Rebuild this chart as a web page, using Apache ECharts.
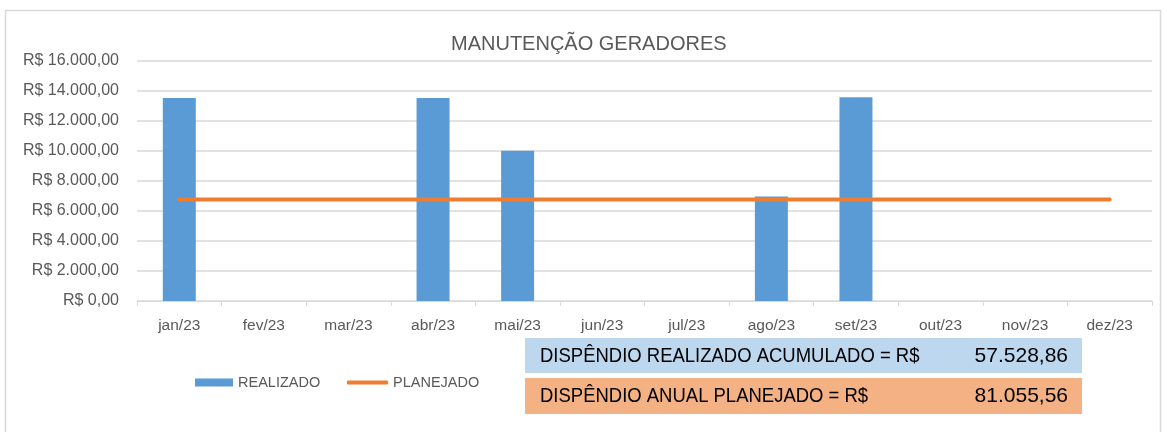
<!DOCTYPE html>
<html>
<head>
<meta charset="utf-8">
<script src="https://cdn.jsdelivr.net/npm/echarts@6/dist/echarts.min.js"></script>
<style>
  html, body { margin: 0; padding: 0; background: #fff; }
  #chart { width: 1167px; height: 432px; }
</style>
</head>
<body>
<div id="chart"></div>
<script>
// dados
const categories = ['jan/23', 'fev/23', 'mar/23', 'abr/23', 'mai/23', 'jun/23', 'jul/23', 'ago/23', 'set/23', 'out/23', 'nov/23', 'dez/23']
const realizado = [13500, null, null, 13500, 10000, null, null, 6950, 13550, null, null, null]
const planejado = [6754.63, 6754.63, 6754.63, 6754.63, 6754.63, 6754.63, 6754.63, 6754.63, 6754.63, 6754.63, 6754.63, 6754.63]
const totalRealizado = '57.528,86'
const totalPlanejado = '81.055,56'

const FONT = '"Liberation Sans", Roboto, sans-serif'
const GRAY = '#595959'

function brl(v) { // formato R$ 16.000,00
    const parts = Number(v).toFixed(2).split('.')
    const int = parts[0].replace(/\B(?=(\d{3})+(?!\d))/g, '.')
    return 'R$ ' + int + ',' + parts[1]
}

const chart = echarts.init(document.getElementById('chart'))

const legendText = { color: GRAY, fontSize: 14.5, fontFamily: FONT }

// texto das caixas de resumo (fonte estreita simulada com scaleX)
function boxText(text, x, y, align, scaleX) {
    return {
        type: 'text',
        x: x,
        y: y,
        scaleX: scaleX,
        style: { text: text, fill: '#000', fontSize: 21, fontFamily: FONT, textAlign: align, textVerticalAlign: 'middle' }
    }
}

const option = {
    animation: false,
    title: {
        text: 'MANUTENÇÃO GERADORES',
        left: 451,
        top: 34,
        padding: 0,
        textStyle: { color: GRAY, fontSize: 20, fontWeight: 'normal', fontFamily: FONT }
    },
    grid: { left: 137, right: 15, top: 60.5, bottom: 131 },
    legend: [
        { // barra
            left: 195,
            top: 375,
            padding: 0,
            itemWidth: 38,
            itemHeight: 8,
            textStyle: legendText,
            data: [{ name: 'REALIZADO', icon: 'rect' }]
        },
        { // linha
            left: 347,
            top: 375,
            padding: 0,
            itemWidth: 41,
            itemHeight: 4,
            textStyle: legendText,
            data: [{ name: 'PLANEJADO', icon: 'roundRect' }]
        }
    ],
    xAxis: {
        type: 'category',
        data: categories,
        axisLine: { lineStyle: { color: '#d9d9d9' } },
        axisTick: { show: true, length: 5, lineStyle: { color: '#d9d9d9' } },
        axisLabel: { color: GRAY, fontSize: 15.5, fontFamily: FONT, margin: 17 }
    },
    yAxis: {
        type: 'value',
        min: 0,
        max: 16000,
        interval: 2000,
        axisLine: { show: false },
        axisTick: { show: false },
        splitLine: { lineStyle: { color: '#d9d9d9', width: 1.5 } },
        axisLabel: { color: GRAY, fontSize: 16, fontFamily: FONT, margin: 18, formatter: brl }
    },
    series: [
        {
            name: 'REALIZADO',
            type: 'bar',
            data: realizado,
            barWidth: '39%',
            itemStyle: { color: '#5B9BD5' }
        },
        {
            name: 'PLANEJADO',
            type: 'line',
            data: planejado,
            symbol: 'none',
            lineStyle: { color: '#ED7D31', width: 4, cap: 'round' },
            itemStyle: { color: '#ED7D31' }
        }
    ],
    graphic: [
        { // moldura do gráfico
            type: 'rect',
            silent: true,
            shape: { x: 5.5, y: 10.5, width: 1155, height: 430 },
            style: { fill: 'none', stroke: '#d9d9d9', lineWidth: 1.5 }
        },
        {
            type: 'rect',
            shape: { x: 525, y: 338, width: 557, height: 35 },
            style: { fill: '#BDD7EE' }
        },
        {
            type: 'rect',
            shape: { x: 525, y: 378, width: 557, height: 36 },
            style: { fill: '#F4B183' }
        },
        boxText('DISPÊNDIO REALIZADO ACUMULADO = R$', 540, 356, 'left', 0.88),
        boxText(totalRealizado, 1068, 356, 'right', 1),
        boxText('DISPÊNDIO ANUAL PLANEJADO = R$', 540, 396, 'left', 0.88),
        boxText(totalPlanejado, 1068, 396, 'right', 1)
    ]
}

chart.setOption(option)
</script>
</body>
</html>
